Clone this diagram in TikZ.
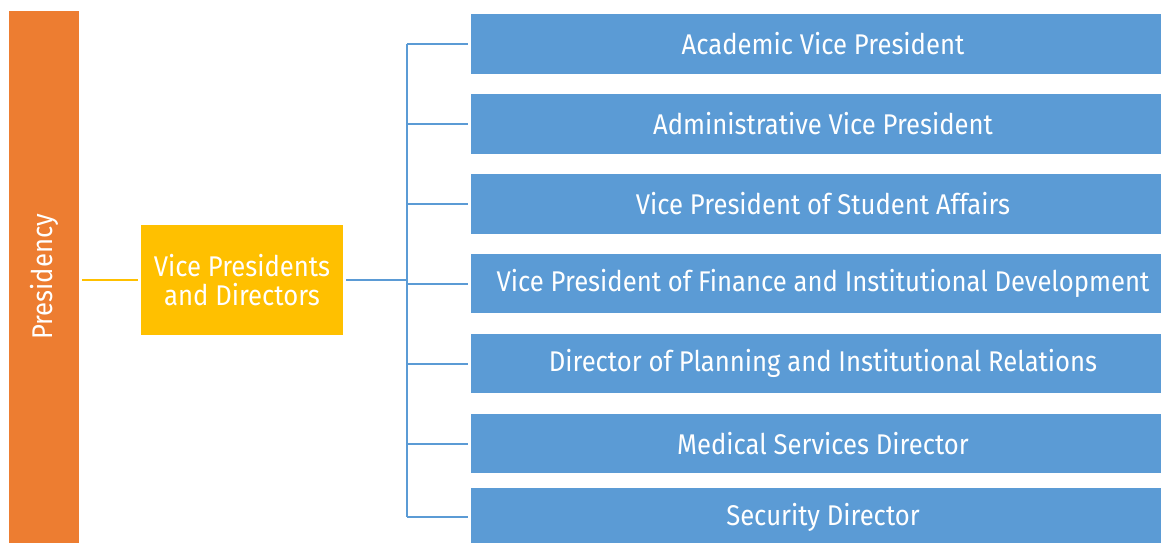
\documentclass[tikz,border=0pt]{standalone}
\usepackage{fontspec}
\setmainfont[FakeStretch=0.9]{Fira Sans}
\usetikzlibrary{positioning}
\definecolor{presorange}{HTML}{ED7D31}
\definecolor{vpyellow}{HTML}{FFC000}
\definecolor{unitblue}{HTML}{5B9BD5}

\begin{document}
\begin{tikzpicture}[
        x=1pt, y=1pt,
        node distance=20pt and 60pt,
        textfont/.style={font=\fontsize{28.5}{31}\selectfont},
        unit/.style={
            rectangle,
            fill=unitblue,
            text=white,
            minimum width=704pt,
            minimum height=59.5pt,
            inner sep=0pt,
            textfont
        },
        head/.style={
            rectangle,
            fill=presorange,
            text=white,
            minimum width=532pt,
            minimum height=70pt,
            inner sep=0pt,
            rotate=90,
            textfont
        },
        group/.style={
            rectangle,
            fill=vpyellow,
            text=white,
            minimum width=202pt,
            minimum height=110pt,
            align=center,
            inner sep=0pt,
            textfont
        },
        link/.style={line width=2pt, shorten <=3pt, shorten >=3pt},
        branch/.style={unitblue, line width=2pt}
    ]
    \useasboundingbox (0,0) rectangle (1161,542);

    % --- NODES ---
    \node (pres) [head] at (44,265) {Presidency};
    \node (vp) [group] at (242,262) {Vice Presidents\\[-2pt]and Directors};

    \node (acad) [unit] at (823,498) {Academic Vice President};
    \node (admin) [unit, below=of acad] {Administrative Vice President};
    \node (stud) [unit, below=of admin] {Vice President of Student Affairs};
    \node (fin) [unit, below=of stud] {Vice President of Finance and Institutional Development};
    \node (plan) [unit, below=of fin] {Director of Planning and Institutional Relations};
    \node (med) [unit, below=of plan] {Medical Services Director};
    \node (secur) [unit, below=14pt of med] {Security Director};

    \coordinate (trunk) at (407,262);

    % --- CONNECTORS ---
    \draw [link, vpyellow] (vp.west -| pres.south) -- (vp.west);
    \draw [branch, shorten <=3pt] (vp.east) -- (vp.east -| trunk);
    \draw [branch] (acad.west -| trunk) -- (secur.west -| trunk);
    \foreach \u in {acad, admin, stud, fin, plan, med, secur}
        \draw [branch] (\u.west -| trunk) -- ([xshift=-3pt]\u.west);

\end{tikzpicture}
\end{document}
